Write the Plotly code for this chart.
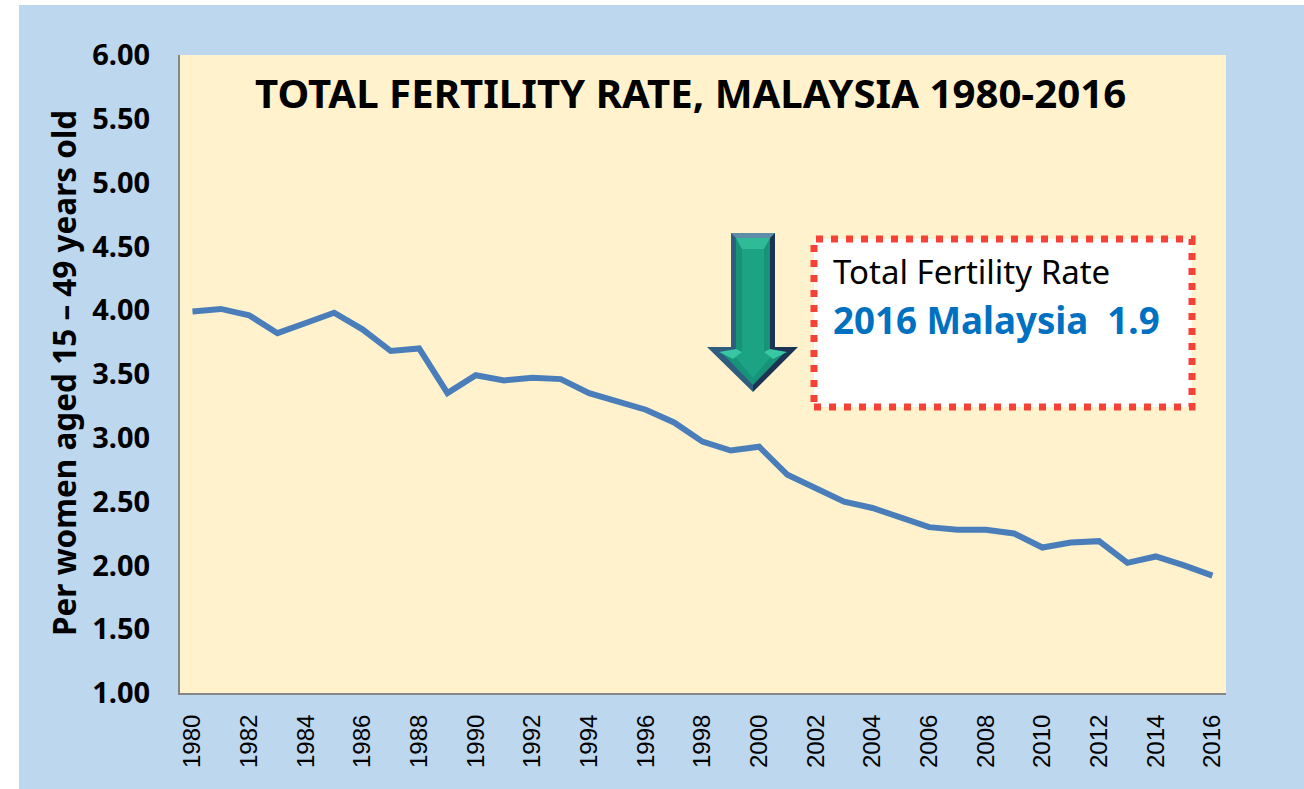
import plotly.graph_objects as go

years = list(range(1980, 2017))
tfr = [3.99, 4.01, 3.96, 3.82, 3.90, 3.98, 3.85, 3.68, 3.70, 3.35,
       3.49, 3.45, 3.47, 3.46, 3.35, 3.28, 3.22, 3.12, 2.97, 2.90,
       2.93, 2.71, 2.61, 2.50, 2.45, 2.37, 2.30, 2.28, 2.28, 2.25,
       2.14, 2.18, 2.19, 2.02, 2.07, 2.00, 1.92]
x_ticks = list(range(1980, 2017, 2))
y_ticks = [1, 1.5, 2, 2.5, 3, 3.5, 4, 4.5, 5, 5.5, 6]

W, H = 1304, 789
L, R, T, B = 180, 1226, 55, 693
def px(x): return (x - L) / (R - L)
def py(y): return (B - y) / (B - T)
def path(pts):
    return "M " + " L ".join(f"{px(a):.5f},{py(b):.5f}" for a, b in pts) + " Z"
def poly(pts, color):
    return dict(type="path", xref="paper", yref="paper", path=path(pts),
                fillcolor=color, line=dict(width=0), layer="above")

shapes = [
    dict(type="rect", xref="paper", yref="paper", x0=px(19), x1=px(1304), y0=py(789), y1=py(5),
         fillcolor="#bdd7ee", line=dict(width=0), layer="below"),
    dict(type="rect", xref="paper", yref="paper", x0=0, x1=1, y0=0, y1=1,
         fillcolor="#fff2cc", line=dict(width=0), layer="below"),
    # callout box
    dict(type="rect", xref="paper", yref="paper", x0=px(814), x1=px(1192), y0=py(407), y1=py(239),
         fillcolor="#ffffff", line=dict(color="#f44336", width=7, dash="7px,8px"), layer="above"),
    # arrow: bevel faces, then the teal face with a lighter centre band
    poly([(731, 233), (753, 233), (753, 392), (707, 347), (731, 347)], "#2f5d80"),
    poly([(775, 233), (753, 233), (753, 392), (798, 347), (775, 347)], "#1b3454"),
    poly([(731, 233), (775, 233), (770, 238), (736, 238)], "#5f8fa8"),
    poly([(736, 238), (770, 238), (770, 352), (785, 352), (753, 385), (721, 352), (736, 352)], "#17937a"),
    poly([(742, 238), (764, 238), (764, 352), (775, 352), (753, 378), (731, 352), (742, 352)], "#1ba384"),
    poly([(736, 238), (770, 238), (764, 249), (742, 249)], "#2fbb98"),
    poly([(719, 352), (736, 349), (742, 352), (733, 359)], "#38c7a2"),
    poly([(787, 352), (770, 349), (764, 352), (773, 359)], "#38c7a2"),
]

def note(text, x, y, size, color="#000000", bold=False, angle=0, anchor="center"):
    return dict(text=f"<b>{text}</b>" if bold else text, xref="paper", yref="paper",
                x=px(x), y=py(y), xanchor=anchor, yanchor="middle", showarrow=False,
                textangle=angle, font=dict(family="Noto Sans", size=size, color=color))

annotations = [
    note("TOTAL FERTILITY RATE, MALAYSIA 1980-2016", 690, 93, 40.2, bold=True),
    note("Per women aged 15 – 49 years old", 63, 373, 31.5, bold=True, angle=-90),
    note("Total Fertility Rate", 831, 271, 33, anchor="left"),
    note("2016 Malaysia  1.9", 831, 320, 36.7, color="#0070c0", bold=True, anchor="left"),
]

fig = go.Figure(go.Scatter(x=years, y=tfr, mode="lines",
                           line=dict(color="#4a7ebb", width=6), hoverinfo="skip"))
fig.update_layout(
    width=W, height=H, autosize=False,
    margin=dict(l=L, r=W - R, t=T, b=H - B, pad=0),
    paper_bgcolor="#ffffff", plot_bgcolor="rgba(0,0,0,0)",
    showlegend=False, shapes=shapes, annotations=annotations,
)
fig.update_xaxes(range=[1979.56, 2016.48], tickmode="array", tickvals=x_ticks,
                 ticktext=[str(v) for v in x_ticks], tickangle=-90,
                 tickfont=dict(family="Liberation Sans", size=24, color="#000000"),
                 showgrid=False, zeroline=False, showline=True, linecolor="#868686",
                 linewidth=2, ticks="outside", ticklen=10, tickcolor="rgba(0,0,0,0)")
fig.update_yaxes(range=[1, 6], tickmode="array", tickvals=y_ticks,
                 ticktext=[f"<b>{v:.2f}</b>" for v in y_ticks],
                 tickfont=dict(family="Noto Sans", size=29, color="#000000"),
                 showgrid=False, zeroline=False, showline=True, linecolor="#868686",
                 linewidth=2, ticks="outside", ticklen=22, tickcolor="rgba(0,0,0,0)")
fig.write_html("out.html", config={"displayModeBar": False},
               post_script="document.body.style.margin='0';document.documentElement.style.overflow='hidden';")
